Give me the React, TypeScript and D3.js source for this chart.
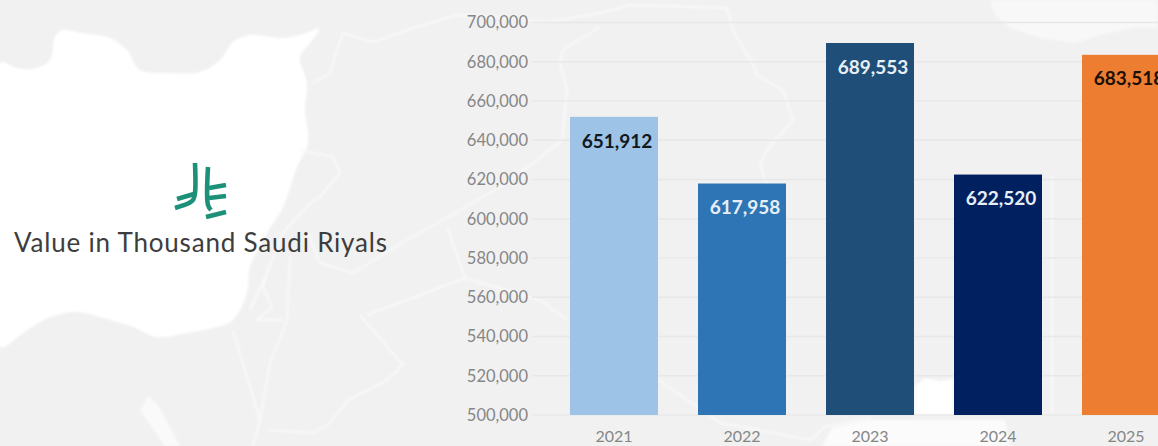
import React from "react";
import * as d3 from "d3";

const WIDTH = 1158;
const HEIGHT = 446;

// Annual values, thousand Saudi riyals
const years = ["2021", "2022", "2023", "2024", "2025"];
const values = [651912, 617958, 689553, 622520, 683518];
const barColors = ["#9dc3e6", "#2e75b6", "#1f4e79", "#002060", "#ed7d31"];
const labelColors = ["#111820", "#e6eef6", "#e6eef6", "#e6eef6", "#1a1008"];
const yTicks = [500000, 520000, 540000, 560000, 580000, 600000, 620000, 640000, 660000, 680000, 700000];

type Pt = [number, number];

// Backdrop map: the highlighted country and neighbouring land
const syriaShape: Pt[] = [
  [0, 63], [17, 68], [37, 68], [50, 60], [55, 37], [63, 30], [83, 33], [110, 38], [127, 50], [140, 70],
  [167, 73], [200, 72], [220, 60], [233, 42], [250, 35], [283, 38], [300, 35], [319, 29], [310, 43],
  [300, 57], [307, 83], [305, 110], [308, 143], [297, 167], [283, 207], [267, 233], [250, 267],
  [247, 293], [233, 320], [213, 328], [187, 333], [157, 337], [133, 327], [100, 317], [77, 312],
  [50, 317], [23, 333], [0, 347],
];
const sinaiSliver: Pt[] = [[140, 410], [148, 396], [158, 405], [180, 446], [165, 446]];
const topRightWater: Pt[] = [
  [990, 0], [995, 15], [1010, 28], [1040, 38], [1075, 43], [1100, 35], [1135, 28], [1158, 28], [1158, 0],
];
const gapPatch: Pt[] = [[915, 415], [915, 386], [925, 378], [940, 381], [953, 379], [953, 415]];
const bottomPatch: Pt[] = [[822, 446], [832, 428], [868, 420], [1005, 420], [1010, 446]];

const borders: Pt[][] = [
  [[313, 83], [330, 73], [337, 50], [343, 33], [373, 42], [413, 28], [457, 15], [500, 17], [548, 22], [600, 13], [630, 5], [727, 8], [733, 30], [753, 65], [757, 75], [783, 90], [793, 120], [780, 135], [767, 150], [760, 165], [767, 185]],
  [[600, 27], [563, 50], [560, 63], [567, 90], [562, 140], [533, 163], [500, 187], [443, 220], [407, 240], [353, 273], [320, 263], [308, 233]],
  [[447, 227], [465, 278], [367, 315]],
  [[360, 315], [403, 365], [387, 380], [348, 400], [330, 423], [313, 433], [267, 430]],
  [[465, 278], [540, 300], [567, 320]],
  [[658, 380], [721, 423], [811, 440], [825, 427], [870, 418]],
  [[290, 257], [287, 320], [270, 363], [260, 420], [253, 446]],
  [[233, 330], [247, 377], [260, 420]],
  [[270, 263], [263, 287], [272, 307], [257, 320], [283, 320]],
  [[300, 150], [333, 157], [340, 173], [320, 197], [310, 203], [283, 233], [267, 273], [250, 310]],
  [[1052, 175], [1052, 415]],
];

// Emblem strokes, in its own 70 × 70 box
const emblemStrokes: Pt[][] = [
  [[30, 8], [30, 38], [28, 45], [24, 48], [10, 53]],
  [[12, 44], [29, 39]],
  [[43, 12], [43, 50], [46, 55]],
  [[44, 33], [61, 30]],
  [[44, 43], [61, 41]],
  [[41, 62], [61, 57]],
];

const x = d3.scaleBand<string>().domain(years).range([550, 1190]).paddingInner(0.3125).paddingOuter(0.15625);
const y = d3.scaleLinear().domain([500000, 700000]).range([415, 22.5]);
const fmt = d3.format(",");
const polyline = d3.line<Pt>();
const closed = (pts: Pt[]) => `${polyline(pts)}Z`;
const smooth = d3.line<Pt>().curve(d3.curveCatmullRom);
const softCurve = d3.line<Pt>().curve(d3.curveCatmullRomClosed);

export default function App() {
  return (
    <svg
      width={WIDTH}
      height={HEIGHT}
      viewBox={`0 0 ${WIDTH} ${HEIGHT}`}
      style={{ position: "fixed", left: 0, top: 0, display: "block" }}
    >
      <defs>
        <filter id="mapSoft" x="-5%" y="-5%" width="110%" height="110%">
          <feGaussianBlur stdDeviation="1.1" />
        </filter>
      </defs>
      <rect width={WIDTH} height={HEIGHT} fill="#f1f1f1" />

      <g filter="url(#mapSoft)">
        <path d={closed(topRightWater)} fill="#f8f8f8" />
        <path d={softCurve(syriaShape) ?? ""} fill="#ffffff" />
        <path d={closed(sinaiSliver)} fill="#fafafa" />
        <path d={closed(gapPatch)} fill="#ffffff" />
        <path d={closed(bottomPatch)} fill="#fbfbfb" />
        {borders.map((b, i) => (
          <path key={i} d={polyline(b) ?? ""} fill="none" stroke="#f9f9f9" strokeWidth={2} strokeLinejoin="round" />
        ))}
      </g>

      <g transform="translate(165 155)" fill="none" stroke="#1c9079" strokeWidth={4.6}>
        {emblemStrokes.map((s, i) => (
          <path key={i} d={smooth(s) ?? ""} />
        ))}
      </g>
      <text
        x={14}
        y={252}
        fontFamily="Lato"
        fontSize={26}
        fill="#3d3d3d"
        textLength={373}
        lengthAdjust="spacing"
      >
        Value in Thousand Saudi Riyals
      </text>

      <g stroke="#e8e8e8" strokeWidth={1.5}>
        {yTicks.map((t) => (
          <line key={t} x1={532} x2={WIDTH} y1={y(t)} y2={y(t)} />
        ))}
      </g>
      <g fontFamily="Lato" fontSize={16.5} fill="#868686" textAnchor="end">
        {yTicks.map((t) => (
          <text key={t} x={528} y={y(t)} dy="0.35em">
            {fmt(t)}
          </text>
        ))}
      </g>

      {years.map((yr, i) => (
        <g key={yr}>
          <rect
            x={x(yr)}
            y={y(values[i])}
            width={x.bandwidth()}
            height={y(500000) - y(values[i])}
            fill={barColors[i]}
          />
          <text
            x={(x(yr) ?? 0) + x.bandwidth() / 2 + 3}
            y={y(values[i]) + 24}
            dy="0.35em"
            textAnchor="middle"
            fontFamily="Lato"
            fontWeight={700}
            fontSize={19}
            fill={labelColors[i]}
          >
            {fmt(values[i])}
          </text>
          <text
            x={(x(yr) ?? 0) + x.bandwidth() / 2}
            y={436}
            dy="0.35em"
            textAnchor="middle"
            fontFamily="Lato"
            fontSize={16}
            fill="#868686"
          >
            {yr}
          </text>
        </g>
      ))}
    </svg>
  );
}
